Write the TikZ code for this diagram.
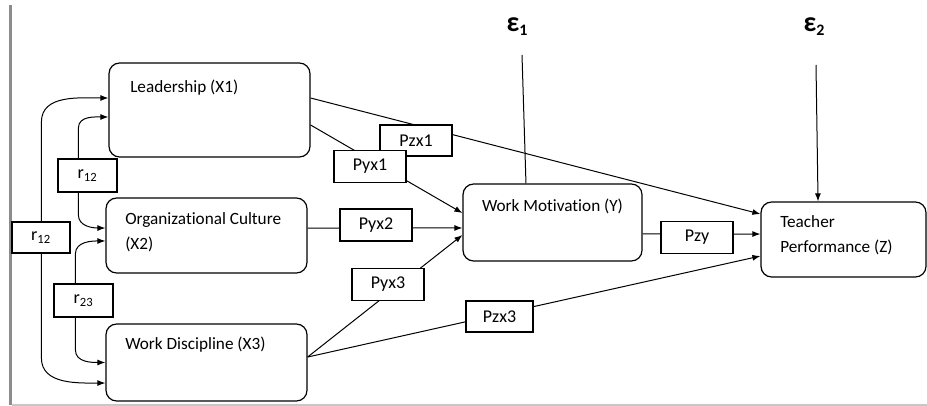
\documentclass[tikz,border=0pt]{standalone}
\usepackage{fontspec}
\setmainfont{Carlito}[Ligatures={NoCommon}]
\usetikzlibrary{arrows.meta}

\begin{document}
\begin{tikzpicture}[x=0.75pt,y=-0.75pt,
  var/.style={draw, rounded corners=8pt, line width=0.9pt, inner sep=0pt, minimum width=150.75pt},
  coef/.style={draw, fill=white, line width=0.9pt, inner sep=0pt,
               minimum width=54pt, minimum height=24pt,
               font=\fontsize{13.5pt}{15pt}\selectfont},
  txt/.style={inner sep=0pt, align=left, font=\fontsize{12.9pt}{18.75pt}\selectfont},
  tip/.tip={Latex[length=6pt,width=4.5pt]},
  link/.style={line width=0.75pt, -tip},
  bare/.style={line width=0.75pt},
  corr/.style={line width=0.75pt, tip-tip},
  errlbl/.style={inner sep=0pt, font=\fontsize{21pt}{22pt}\selectfont\bfseries}
]
\useasboundingbox (0,0) rectangle (927,406);

% page rules
\draw[color=black!45, line width=2.2pt] (10.5,5) -- (10.5,405);
\draw[color=black!22, line width=1.2pt] (12,405) -- (927,405);

% latent variables
\node[var, minimum height=70.5pt] (lead) at (209.5,110) {};
\node[var, minimum height=56.25pt] (org) at (206.5,235.5) {};
\node[var, minimum height=57.75pt] (disc) at (206.5,362.5) {};
\node[var, minimum width=134.25pt, minimum height=57.75pt] (mot) at (552.5,222.5) {};
\node[var, minimum width=123.75pt, minimum height=56.25pt] (perf) at (843.5,239.5) {};

\node[txt, anchor=west] (leadtxt) at (130,88) {Leadership (X1)};
\node[txt, anchor=west] (orgtxt) at (125,232) {Organizational Culture\\(X2)};
\node[txt, anchor=west] (disctxt) at (125,345) {Work Discipline (X3)};
\node[txt] (mottxt) at (552.5,206.5) {Work Motivation (Y)};
\node[txt, anchor=west] (perftxt) at (780,235) {Teacher\\Performance (Z)};

% error terms
\node[errlbl] (eps1) at (517,27) {ε\raisebox{-3pt}{\fontsize{12pt}{13pt}\selectfont 1}};
\node[errlbl] (eps2) at (814,27) {ε\raisebox{-3pt}{\fontsize{12pt}{13pt}\selectfont 2}};
\coordinate (e1top) at (522,55);
\coordinate (e2top) at (816,65);
\draw[bare] (e1top) -- ([xshift=-19.9pt]mot.north);
\draw[link] (e2top) -- ([xshift=-19.1pt]perf.north);

% direct paths
\draw[link] ([yshift=9pt]lead.east) -- ([yshift=19.1pt]perf.west);
\draw[link] ([yshift=-11.25pt]lead.east) -- ([yshift=7.1pt]mot.west);
\draw[link] ([yshift=5.6pt]org.east) -- ([yshift=-4.1pt]mot.west);
\draw[link] ([yshift=4.1pt]disc.east) -- ([yshift=-9.4pt]mot.west);
\draw[link] ([yshift=4.1pt]disc.east) -- ([yshift=-12.4pt]perf.west);
\draw[link] ([yshift=-8.6pt]mot.east) -- ([yshift=4.1pt]perf.west);

% correlations between the exogenous variables
\draw[corr] ([yshift=9pt]lead.west) to[out=180,in=90] ++(-67,24) -- ++(0,236)
  to[out=-90,in=180] ([yshift=-15.4pt]disc.west);
\draw[corr] ([yshift=-5.25pt]lead.west) to[out=180,in=90] ++(-30,11) -- ++(0,87)
  to[out=-90,in=180] ([yshift=5.6pt]org.west);
\draw[corr] ([yshift=-4.1pt]org.west) to[out=180,in=90] ++(-30,13) -- ++(0,96)
  to[out=-90,in=180] (disc.west);

% coefficient labels
\node[coef, minimum width=43.5pt, minimum height=23.25pt] (r12a) at (41,237.5) {r\textsubscript{12}};
\node[coef, minimum width=44.25pt, minimum height=24.75pt] (r12b) at (87.5,175.5) {r\textsubscript{12}};
\node[coef, minimum width=44.25pt, minimum height=24.75pt] (r23) at (83.5,300.5) {r\textsubscript{23}};
\node[coef, minimum height=23.25pt] (pzx1) at (416,140.5) {Pzx1\hspace{5pt}};
\node[coef] (pyx1) at (370,166.5) {Pyx1\hspace{5pt}};
\node[coef] (pyx2) at (376,225) {Pyx2\hspace{5pt}};
\node[coef] (pyx3) at (388,284.5) {Pyx3\hspace{5pt}};
\node[coef, minimum width=50.25pt, minimum height=23.25pt] (pzx3) at (499.5,316.5) {Pzx3};
\node[coef] (pzy) at (697,237.5) {Pzy\hspace{12pt}};
\end{tikzpicture}
\end{document}
